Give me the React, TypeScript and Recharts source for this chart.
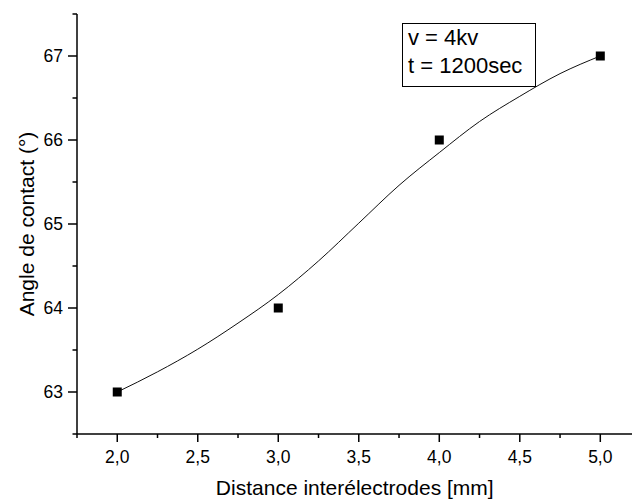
import React from 'react';
import { ComposedChart, Line, Scatter, XAxis, YAxis } from 'recharts';

// measured points
const pointX = [2, 3, 4, 5];
const pointY = [63, 64, 66, 67];

// fitted curve
const curveX = [2.0, 2.25, 2.5, 2.75, 3.0, 3.25, 3.5, 3.75, 4.0, 4.25, 4.5, 4.75, 5.0];
const curveY = [63.0, 63.24, 63.51, 63.82, 64.16, 64.56, 65.01, 65.46, 65.85, 66.22, 66.52, 66.79, 67.0];

const xTicks = [1.75, 2, 2.25, 2.5, 2.75, 3, 3.25, 3.5, 3.75, 4, 4.25, 4.5, 4.75, 5];
const yTicks = [62.5, 63, 63.5, 64, 64.5, 65, 65.5, 66, 66.5, 67, 67.5];

const legendLines = ['v = 4kv', 't = 1200sec'];

const FONT = '"Liberation Sans", Arial, sans-serif';

const points = pointX.map((x, i) => ({ x, y: pointY[i] }));
const curve = curveX.map((x, i) => ({ x, y: curveY[i] }));

const fmt = (v: number) => v.toFixed(1).replace('.', ',');

function XTick(props: any) {
  const { x, y, payload } = props;
  const v = payload.value;
  const major = Math.abs(v * 2 - Math.round(v * 2)) < 1e-6;
  return (
    <g>
      <line x1={x} x2={x} y1={y} y2={y + (major ? 8 : 4)} stroke="#000" strokeWidth={1.5} />
      {major && (
        <text x={x} y={y + 29} textAnchor="middle" fontSize={17.5} fontFamily={FONT} fill="#000">
          {fmt(v)}
        </text>
      )}
    </g>
  );
}

function YTick(props: any) {
  const { x, y, payload } = props;
  const v = payload.value;
  const major = Math.abs(v - Math.round(v)) < 1e-6;
  return (
    <g>
      <line x1={x - (major ? 9 : 4.5)} x2={x} y1={y} y2={y} stroke="#000" strokeWidth={1.5} />
      {major && (
        <text x={x - 14} y={y + 6} textAnchor="end" fontSize={17.5} fontFamily={FONT} fill="#000">
          {v}
        </text>
      )}
    </g>
  );
}

function Square(props: any) {
  const { cx, cy } = props;
  return <rect x={cx - 4.5} y={cy - 4.5} width={9} height={9} fill="#000" />;
}

export default function App() {
  return (
    <div style={{ position: 'absolute', left: 0, top: 0, width: 632, height: 500, overflow: 'hidden', background: '#fff', fontFamily: FONT }}>
      <ComposedChart width={640} height={500} margin={{ top: 14, right: 7.5, bottom: 0, left: 0 }}>
        <XAxis
          dataKey="x"
          type="number"
          domain={[1.75, 5.2]}
          ticks={xTicks}
          allowDataOverflow
          height={66}
          tickSize={0}
          tickMargin={0}
          tickLine={false}
          tick={<XTick />}
          axisLine={{ stroke: '#000', strokeWidth: 1.5 }}
          label={{ value: 'Distance interélectrodes [mm]', position: 'insideBottom', offset: 5, fontSize: 21, fill: '#000', fontFamily: FONT }}
        />
        <XAxis
          xAxisId="top"
          orientation="top"
          type="number"
          domain={[1.75, 5.2]}
          height={0}
          tick={false}
          tickLine={false}
          axisLine={{ stroke: '#000', strokeWidth: 1.5 }}
        />
        <YAxis
          type="number"
          domain={[62.5, 67.5]}
          ticks={yTicks}
          allowDataOverflow
          width={77}
          tickSize={0}
          tickMargin={0}
          tickLine={false}
          tick={<YTick />}
          axisLine={{ stroke: '#000', strokeWidth: 1.5 }}
          label={{ value: 'Angle de contact (°)', angle: -90, position: 'insideLeft', offset: 27, fontSize: 21, fill: '#000', fontFamily: FONT, style: { textAnchor: 'middle' } }}
        />
        <Line data={curve} dataKey="y" type="monotone" stroke="#111" strokeWidth={1} dot={false} isAnimationActive={false} />
        <Scatter data={points} dataKey="y" fill="#000" shape={<Square />} isAnimationActive={false} />
      </ComposedChart>
      <div
        style={{
          position: 'absolute', left: 402, top: 23, width: 134, height: 64, boxSizing: 'border-box',
          border: '1px solid #000', paddingTop: 0, paddingLeft: 5, fontSize: 22, lineHeight: '28px', color: '#000',
          whiteSpace: 'nowrap',
        }}
      >
        {legendLines.map((t) => (
          <div key={t}>{t}</div>
        ))}
      </div>
    </div>
  );
}
